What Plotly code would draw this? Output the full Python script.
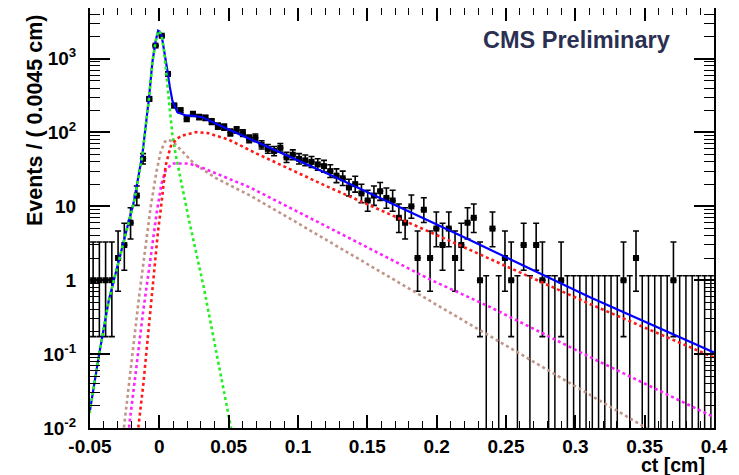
import math
import plotly.graph_objects as go

# ---------------- data ----------------
bin_lo = -0.05
bin_w = 0.0045
counts = [
    1, 1, 1, 1, 2, 3, 6, 14, 44, 285,
    1500, 2040, 620, 232, 200, 153, 178, 162, 158, 140,
    122, 118, 100, 108, 98, 82, 85, 68, 60, 56,
    62, 46, 50, 44, 42, 40, 37, 35, 30, 26,
    24, 18, 20, 15, 12, 14, 16, 13, 12, 7,
    6, 10, 2, 9, 2, 5, 3, 5, 2, 3,
    6, 7, 1, 0, 5, 0, 2, 1, 0, 3,
    0, 3, 1, 0, 0, 1, 0, 0, 0, 0,
    0, 0, 0, 0, 0, 1, 0, 2, 0, 0,
    0, 0, 0, 1, 0, 0, 0, 0, 0, 0,
]

# total fit (blue)
x_total = [-0.0503, -0.0434, -0.0364, -0.0293, -0.024, -0.0182, -0.0122, -0.0074, -0.005,
           -0.0026, -0.0009, 0.0004, 0.0017, 0.0035, 0.0058, 0.0075, 0.0094, 0.013, 0.019,
           0.025, 0.031, 0.05, 0.1266, 0.2167, 0.3102, 0.40]
y_total = [0.016, 0.10, 0.54, 1.86, 4.5, 12, 51, 300, 900,
           1750, 2380, 2300, 2030, 1300, 690, 420, 270, 188, 170,
           168, 161, 110, 24.9, 4.06, 0.595, 0.105]

# prompt component (green)
x_prompt = [-0.0503, -0.0434, -0.0364, -0.0293, -0.024, -0.0182, -0.0122, -0.0074, -0.005,
            -0.0026, -0.0009, 0.0004, 0.0017, 0.0035, 0.0058, 0.0075, 0.0094, 0.0118,
            0.0214, 0.032, 0.0366, 0.05, 0.054]
y_prompt = [0.016, 0.10, 0.54, 1.86, 4.4, 11.5, 49, 295, 880,
            1740, 2370, 2290, 2010, 1250, 500, 210, 95, 50,
            6.5, 0.81, 0.29, 0.015, 0.006]

# non-prompt component (red)
x_red = [-0.017, -0.0152, -0.0115, -0.008, -0.004, -0.001, 0.001, 0.003, 0.0046, 0.0082,
         0.0125, 0.0166, 0.0262, 0.035, 0.05, 0.07, 0.1193, 0.2167, 0.3102, 0.40]
y_red = [0.004, 0.01, 0.04, 0.2, 1.2, 4.5, 9, 20, 36, 65,
         82, 91, 101, 98, 80, 52, 19.2, 2.97, 0.48, 0.09]

# second component (magenta)
x_mag = [-0.0245, -0.022, -0.017, -0.0115, -0.006, -0.002, 0.0015, 0.0046, 0.0094, 0.0214,
         0.0298, 0.0655, 0.1193, 0.1963, 0.2383, 0.3102, 0.40]
y_mag = [0.004, 0.01, 0.06, 0.4, 2.2, 8, 20, 31, 38, 38,
         34, 18, 5.5, 1.0, 0.436, 0.092, 0.014]

# third component (brown)
x_brn = [-0.028, -0.0254, -0.02, -0.0146, -0.010, -0.0062, -0.002, 0.001, 0.004, 0.0065,
         0.01, 0.0166, 0.0257, 0.041, 0.0655, 0.10, 0.15, 0.20, 0.25, 0.30,
         0.351, 0.36]
y_brn = [0.004, 0.01, 0.08, 0.6, 3, 10, 30, 55, 75, 80,
         74, 56, 37, 24, 14, 5.9, 1.65, 0.46, 0.13, 0.036,
         0.01, 0.008]

x_ticks = [-0.05, 0, 0.05, 0.1, 0.15, 0.2, 0.25, 0.3, 0.35, 0.4]
x_ticktext = ["-0.05", "0", "0.05", "0.1", "0.15", "0.2", "0.25", "0.3", "0.35", "0.4"]
y_ticks = [0.01, 0.1, 1, 10, 100, 1000]
y_ticktext = ["10<sup>-2</sup>", "10<sup>-1</sup>", "1", "10", "10<sup>2</sup>", "10<sup>3</sup>"]


# ---------------- Poisson (Garwood 68%) intervals ----------------
def pois_cdf(n, mu):
    if mu <= 0:
        return 1.0
    s = 0.0
    for k in range(n + 1):
        s += math.exp(-mu + k * math.log(mu) - math.lgamma(k + 1))
    return s


def interval(n):
    a = (1 - 0.682689) / 2
    if n == 0:
        return 0.0, -math.log(2 * a)
    if n > 150:
        return n - math.sqrt(n), n + math.sqrt(n)

    def bis(f, lo, hi):
        for _ in range(80):
            m = 0.5 * (lo + hi)
            if f(m):
                lo = m
            else:
                hi = m
        return 0.5 * (lo + hi)

    hi_b = n + 10 * math.sqrt(n) + 10
    up = bis(lambda mu: pois_cdf(n, mu) > a, n, hi_b)
    low = bis(lambda mu: (1 - pois_cdf(n - 1, mu)) < a, 0.0, n)
    return low, up


centers = [bin_lo + bin_w * (i + 0.5) for i in range(len(counts))]
xn, yn, ep, em = [], [], [], []
xz, yz, ezm = [], [], []
for c, n in zip(centers, counts):
    lo, up = interval(n)
    if n > 0:
        xn.append(c); yn.append(n); ep.append(up - n); em.append(n - lo)
    else:
        xz.append(c); yz.append(up); ezm.append(up - 1e-6)

fig = go.Figure()

fig.add_trace(go.Scatter(
    x=xz, y=yz, mode="markers",
    marker=dict(size=1, color="rgba(0,0,0,0)"),
    error_y=dict(type="data", symmetric=False, array=[0] * len(yz), arrayminus=ezm,
                 color="black", thickness=1.5, width=3),
    hoverinfo="skip", showlegend=False))

fig.add_trace(go.Scatter(
    x=xn, y=yn, mode="markers",
    marker=dict(symbol="square", size=6, color="black"),
    error_y=dict(type="data", symmetric=False, array=ep, arrayminus=em,
                 color="black", thickness=1.6, width=3),
    error_x=dict(type="constant", value=bin_w / 2, color="black", thickness=1.6, width=0),
    showlegend=False))

fig.add_trace(go.Scatter(x=x_total, y=y_total, mode="lines",
                         line=dict(color="#0000ff", width=2.2), showlegend=False))
fig.add_trace(go.Scatter(x=x_prompt, y=y_prompt, mode="lines",
                         line=dict(color="#22ee22", width=2.6, dash="3px,3px"), showlegend=False))
fig.add_trace(go.Scatter(x=x_brn, y=y_brn, mode="lines",
                         line=dict(color="#c09488", width=2.6, dash="3px,3px"), showlegend=False))
fig.add_trace(go.Scatter(x=x_mag, y=y_mag, mode="lines",
                         line=dict(color="#ff22ff", width=2.6, dash="3px,3px"), showlegend=False))
fig.add_trace(go.Scatter(x=x_red, y=y_red, mode="lines",
                         line=dict(color="#ff1a1a", width=2.6, dash="3px,3px"), showlegend=False))

font_fam = "Liberation Sans, Arial, Helvetica, sans-serif"

fig.update_xaxes(
    range=[-0.05, 0.4], showgrid=False, zeroline=False,
    showline=True, linecolor="black", linewidth=2, mirror="ticks",
    ticks="inside", ticklen=13, tickwidth=1.5, tickcolor="black",
    tickmode="array", tickvals=x_ticks, ticktext=x_ticktext,
    tickfont=dict(family=font_fam, size=19, color="black", weight="bold"),
    minor=dict(tickmode="linear", tick0=0, dtick=0.01, ticks="inside", ticklen=7,
               tickwidth=1.2, tickcolor="black", showgrid=False),
)

minor_y = [k * 10 ** d for d in range(-2, 4) for k in range(2, 10) if k * 10 ** d < 4800]
fig.update_yaxes(
    type="log", range=[-2, 3.685], showgrid=False, zeroline=False,
    showline=True, linecolor="black", linewidth=2, mirror="ticks",
    ticks="inside", ticklen=20, tickwidth=1.5, tickcolor="black",
    tickmode="array", tickvals=y_ticks, ticktext=y_ticktext,
    ticklabelstandoff=8,
    tickfont=dict(family=font_fam, size=19, color="black", weight="bold"),
    minor=dict(tickmode="array", tickvals=minor_y, ticks="inside", ticklen=10,
               tickwidth=1.2, tickcolor="black", showgrid=False),
)

# plot area (screen px): x 90..714, y 8..428 ; the page body adds an 8 px offset
fig.add_annotation(xref="paper", yref="paper", x=0.779, y=0.9238,
                   text="CMS Preliminary", showarrow=False, xanchor="center", yanchor="middle",
                   font=dict(family=font_fam, size=23.5, color="#2b3052", weight="bold"))
fig.add_annotation(xref="paper", yref="paper", x=0.9888, y=-0.0875,
                   text="ct [cm]", showarrow=False, xanchor="right", yanchor="middle",
                   font=dict(family=font_fam, size=19.5, color="black", weight="bold"))
fig.add_annotation(xref="paper", yref="paper", x=-0.0881, y=0.7333,
                   text="Events / ( 0.0045 cm)", showarrow=False, textangle=-90,
                   xanchor="center", yanchor="middle",
                   font=dict(family=font_fam, size=21.5, color="black", weight="bold"))

fig.update_layout(
    width=731, height=467,
    margin=dict(l=82, r=25, t=0, b=47, autoexpand=False),
    paper_bgcolor="white", plot_bgcolor="white",
    showlegend=False,
)

fig.write_html("out.html")
